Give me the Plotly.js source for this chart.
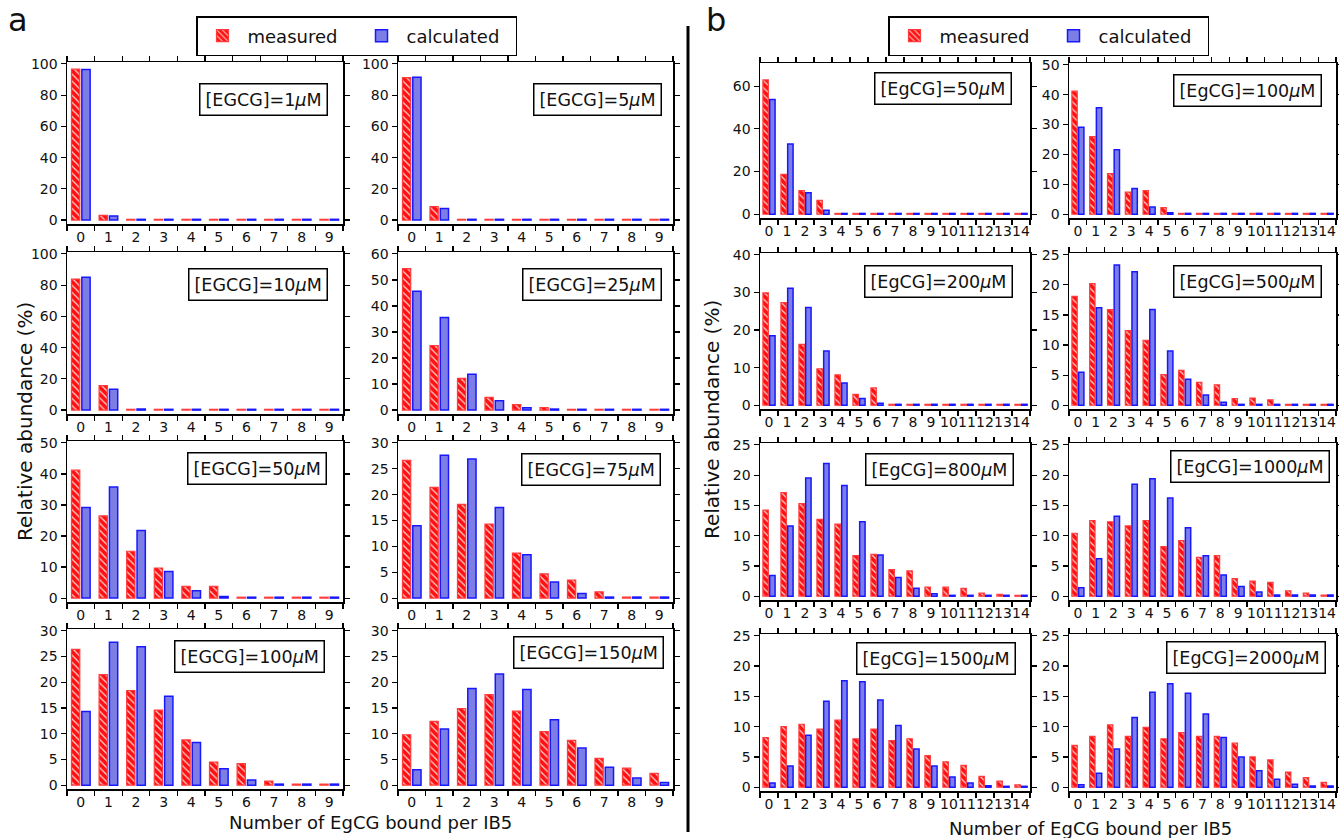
<!DOCTYPE html>
<html><head><meta charset="utf-8">
<script src="https://cdn.plot.ly/plotly-3.0.1.min.js"></script>
<style>html,body{margin:0;padding:0;overflow:hidden;background:#fff}</style>
</head><body><div id="chart" style="width:1339px;height:838px"></div>
<script>
// ---------- categories ----------
const bindCountA = [0,1,2,3,4,5,6,7,8,9];
const bindCountB = [0,1,2,3,4,5,6,7,8,9,10,11,12,13,14];

// ---------- panel a (EGCG) ----------
const measA1   = [96.6, 3.0, 0.5, 0.5, 0.5, 0.5, 0.5, 0.5, 0.5, 0.5];
const calcA1   = [96.4, 2.7, 0.5, 0.5, 0.5, 0.5, 0.5, 0.5, 0.5, 0.5];
const measA5   = [91.2, 8.6, 0.5, 0.5, 0.5, 0.5, 0.5, 0.5, 0.5, 0.5];
const calcA5   = [91.5, 7.5, 0.5, 0.5, 0.5, 0.5, 0.5, 0.5, 0.5, 0.5];
const measA10  = [83.9, 15.6, 0.5, 0.5, 0.5, 0.5, 0.5, 0.5, 0.5, 0.5];
const calcA10  = [85.0, 13.3, 0.7, 0.5, 0.5, 0.5, 0.5, 0.5, 0.5, 0.5];
const measA25  = [54.3, 24.8, 12.2, 4.9, 2.1, 1.0, 0.3, 0.3, 0.3, 0.3];
const calcA25  = [45.6, 35.6, 13.8, 3.6, 0.9, 0.4, 0.3, 0.3, 0.3, 0.3];
const measA50  = [41.2, 26.5, 15.1, 9.7, 3.8, 3.8, 0.3, 0.3, 0.3, 0.3];
const calcA50  = [29.2, 35.8, 21.8, 8.6, 2.4, 0.5, 0.3, 0.3, 0.3, 0.3];
const measA75  = [26.6, 21.4, 18.1, 14.3, 8.7, 4.7, 3.5, 1.2, 0.2, 0.2];
const calcA75  = [14.0, 27.6, 26.9, 17.5, 8.4, 3.1, 0.9, 0.2, 0.2, 0.2];
const measA100 = [26.4, 21.5, 18.4, 14.6, 8.8, 4.5, 4.2, 0.8, 0.2, 0.2];
const calcA100 = [14.3, 27.8, 26.9, 17.3, 8.3, 3.2, 1.0, 0.2, 0.2, 0.2];
const measA150 = [9.8, 12.4, 14.9, 17.6, 14.4, 10.4, 8.7, 5.2, 3.3, 2.3];
const calcA150 = [3.0, 10.9, 18.8, 21.6, 18.6, 12.7, 7.2, 3.5, 1.4, 0.5];

// ---------- panel b (EgCG) ----------
const measB50   = [62.9, 18.7, 11.1, 6.5, 0.4, 0.4, 0.4, 0.4, 0.4, 0.4, 0.4, 0.4, 0.4, 0.4, 0.4];
const calcB50   = [53.8, 32.9, 10.1, 1.9, 0.4, 0.4, 0.4, 0.4, 0.4, 0.4, 0.4, 0.4, 0.4, 0.4, 0.4];
const measB100  = [41.2, 26.0, 13.6, 7.4, 7.9, 2.2, 0.3, 0.3, 0.3, 0.3, 0.3, 0.3, 0.3, 0.3, 0.3];
const calcB100  = [29.1, 35.6, 21.6, 8.6, 2.4, 0.5, 0.3, 0.3, 0.3, 0.3, 0.3, 0.3, 0.3, 0.3, 0.3];
const measB200  = [29.9, 27.3, 16.2, 9.7, 8.1, 2.9, 4.6, 0.25, 0.25, 0.25, 0.25, 0.25, 0.25, 0.25, 0.25];
const calcB200  = [18.5, 31.1, 26.0, 14.4, 5.9, 1.8, 0.5, 0.25, 0.25, 0.25, 0.25, 0.25, 0.25, 0.25, 0.25];
const measB500  = [18.1, 20.2, 15.9, 12.4, 10.8, 5.1, 5.8, 3.8, 3.4, 1.1, 1.2, 0.9, 0.15, 0.15, 0.15];
const calcB500  = [5.5, 16.2, 23.3, 22.2, 15.9, 9.0, 4.3, 1.7, 0.5, 0.15, 0.15, 0.15, 0.15, 0.15, 0.15];
const measB800  = [14.2, 17.1, 15.3, 12.7, 11.9, 6.7, 6.9, 4.4, 4.2, 1.5, 1.5, 1.3, 0.5, 0.3, 0.15];
const calcB800  = [3.4, 11.6, 19.5, 21.9, 18.3, 12.3, 6.8, 3.1, 1.3, 0.4, 0.15, 0.15, 0.15, 0.15, 0.15];
const measB1000 = [10.4, 12.5, 12.3, 11.6, 12.5, 8.2, 9.2, 6.4, 6.7, 2.9, 2.5, 2.3, 0.9, 0.5, 0.2];
const calcB1000 = [1.4, 6.2, 13.2, 18.5, 19.4, 16.2, 11.3, 6.7, 3.5, 1.6, 0.7, 0.2, 0.2, 0.2, 0.2];
const measB1500 = [8.2, 10.0, 10.4, 9.6, 11.1, 8.0, 9.6, 7.7, 8.0, 5.2, 4.2, 3.6, 1.8, 1.0, 0.4];
const calcB1500 = [0.7, 3.5, 8.6, 14.2, 17.6, 17.4, 14.4, 10.2, 6.3, 3.5, 1.7, 0.7, 0.25, 0.15, 0.15];
const measB2000 = [6.9, 8.4, 10.3, 8.4, 9.9, 8.0, 9.0, 8.4, 8.4, 7.3, 5.0, 4.5, 2.5, 1.6, 0.8];
const calcB2000 = [0.4, 2.3, 6.3, 11.5, 15.7, 17.1, 15.5, 12.1, 8.2, 5.0, 2.7, 1.3, 0.5, 0.2, 0.2];

// ---------- labels ----------
const labelsA = ['[EGCG]=1<i>μ</i>M','[EGCG]=5<i>μ</i>M','[EGCG]=10<i>μ</i>M','[EGCG]=25<i>μ</i>M',
                 '[EGCG]=50<i>μ</i>M','[EGCG]=75<i>μ</i>M','[EGCG]=100<i>μ</i>M','[EGCG]=150<i>μ</i>M'];
const labelsB = ['[EgCG]=50<i>μ</i>M','[EgCG]=100<i>μ</i>M','[EgCG]=200<i>μ</i>M','[EgCG]=500<i>μ</i>M',
                 '[EgCG]=800<i>μ</i>M','[EgCG]=1000<i>μ</i>M','[EgCG]=1500<i>μ</i>M','[EgCG]=2000<i>μ</i>M'];
const seriesNames = ['measured', 'calculated'];
const yTitle = 'Relative abundance (%)';
const xTitle = 'Number of EgCG bound per IB5';

// ---------- geometry (pixels) ----------
const W = 1339, H = 838;
const FONT = 'DejaVu Sans, Arial, sans-serif';

const panels = [
  // part a
  {cats: bindCountA, meas: measA1,   calc: calcA1,   label: labelsA[0], x: [67, 343],  y: [62, 224],  ymax: 100, dtick: 20, lab: [328, 83],  leg: 'legend'},
  {cats: bindCountA, meas: measA5,   calc: calcA5,   label: labelsA[1], x: [398, 673], y: [62, 224],  ymax: 100, dtick: 20, lab: [662, 83]},
  {cats: bindCountA, meas: measA10,  calc: calcA10,  label: labelsA[2], x: [67, 343],  y: [252, 414], ymax: 100, dtick: 20, lab: [328, 268]},
  {cats: bindCountA, meas: measA25,  calc: calcA25,  label: labelsA[3], x: [398, 673], y: [252, 414], ymax: 60,  dtick: 10, lab: [662, 268]},
  {cats: bindCountA, meas: measA50,  calc: calcA50,  label: labelsA[4], x: [67, 343],  y: [441, 602], ymax: 50,  dtick: 10, lab: [327, 452]},
  {cats: bindCountA, meas: measA75,  calc: calcA75,  label: labelsA[5], x: [398, 673], y: [441, 602], ymax: 30,  dtick: 5,  lab: [661, 453]},
  {cats: bindCountA, meas: measA100, calc: calcA100, label: labelsA[6], x: [67, 343],  y: [629, 789], ymax: 30,  dtick: 5,  lab: [325, 640]},
  {cats: bindCountA, meas: measA150, calc: calcA150, label: labelsA[7], x: [398, 673], y: [629, 789], ymax: 30,  dtick: 5,  lab: [664, 636]},
  // part b
  {cats: bindCountB, meas: measB50,   calc: calcB50,   label: labelsB[0], x: [760, 1030],  y: [63, 218],  ymax: 70, dtick: 20, lab: [1012, 72], leg: 'legend2'},
  {cats: bindCountB, meas: measB100,  calc: calcB100,  label: labelsB[1], x: [1069, 1336], y: [63, 218],  ymax: 50, dtick: 10, lab: [1322, 74]},
  {cats: bindCountB, meas: measB200,  calc: calcB200,  label: labelsB[2], x: [760, 1030],  y: [253, 409], ymax: 40, dtick: 10, lab: [1013, 265]},
  {cats: bindCountB, meas: measB500,  calc: calcB500,  label: labelsB[3], x: [1069, 1336], y: [253, 409], ymax: 25, dtick: 5,  lab: [1322, 265]},
  {cats: bindCountB, meas: measB800,  calc: calcB800,  label: labelsB[4], x: [760, 1030],  y: [443, 600], ymax: 25, dtick: 5,  lab: [1014, 453]},
  {cats: bindCountB, meas: measB1000, calc: calcB1000, label: labelsB[5], x: [1069, 1336], y: [443, 600], ymax: 25, dtick: 5,  lab: [1330, 450]},
  {cats: bindCountB, meas: measB1500, calc: calcB1500, label: labelsB[6], x: [760, 1030],  y: [634, 791], ymax: 25, dtick: 5,  lab: [1016, 642]},
  {cats: bindCountB, meas: measB2000, calc: calcB2000, label: labelsB[7], x: [1069, 1336], y: [634, 791], ymax: 25, dtick: 5,  lab: [1326, 641]}
];

const px = v => v / W;
const py = v => 1 - v / H;

const traces = [];
const layout = {
  width: W, height: H,
  margin: {l: 0, r: 0, t: 0, b: 0},
  paper_bgcolor: 'white', plot_bgcolor: 'white',
  font: {family: FONT, color: '#111', size: 14},
  barmode: 'group', bargap: 0.25, bargroupgap: 0.2,
  showlegend: true,
  annotations: [], shapes: []
};

const measStyle = {color: '#ff1010', line: {color: '#ff3b3b', width: 1.2},
                   pattern: {shape: '\\', fillmode: 'replace', bgcolor: '#ff1010', fgcolor: '#ffd6d6',
                             size: 5, solidity: 0.25}};
const calcStyle = {color: '#7c7ee6', line: {color: '#1818ff', width: 1.5}};

panels.forEach((p, i) => {
  const k = i + 1;
  const xa = k === 1 ? 'x' : 'x' + k;
  const ya = k === 1 ? 'y' : 'y' + k;
  const show = !!p.leg;
  traces.push({type: 'bar', x: p.cats, y: p.meas, name: seriesNames[0], xaxis: xa, yaxis: ya,
               marker: measStyle, showlegend: show, legend: p.leg || 'legend', hoverinfo: 'y'});
  traces.push({type: 'bar', x: p.cats, y: p.calc, name: seriesNames[1], xaxis: xa, yaxis: ya,
               marker: calcStyle, showlegend: show, legend: p.leg || 'legend', hoverinfo: 'y'});
  const n = p.cats.length;
  const half = p.cats.map(c => c - 0.5).concat([n - 0.5]);
  layout['xaxis' + (k === 1 ? '' : k)] = {
    domain: [px(p.x[0]), px(p.x[1])], anchor: ya,
    range: [-0.5, n - 0.5], fixedrange: true,
    tickmode: 'array', tickvals: p.cats, ticktext: p.cats.map(String), tickangle: 0,
    ticks: '', showline: true, linecolor: 'black', linewidth: 1.5, mirror: 'ticks',
    minor: {tickmode: 'array', tickvals: half, ticks: 'outside', ticklen: 5, tickwidth: 1.2, tickcolor: 'black'},
    showgrid: false, zeroline: false,
    tickfont: {family: FONT, size: 14, color: '#111'}
  };
  layout['yaxis' + (k === 1 ? '' : k)] = {
    domain: [py(p.y[1]), py(p.y[0])], anchor: xa,
    range: [-0.025 * p.ymax, 1.012 * p.ymax], fixedrange: true,
    tick0: 0, dtick: p.dtick, ticks: 'outside', ticklen: 5, tickwidth: 1.2, tickcolor: 'black',
    showline: true, linecolor: 'black', linewidth: 1.5, mirror: 'ticks',
    showgrid: false, zeroline: false,
    tickfont: {family: FONT, size: 14, color: '#111'}
  };
  layout.annotations.push({
    xref: 'paper', yref: 'paper', x: px(p.lab[0]), y: py(p.lab[1]),
    xanchor: 'right', yanchor: 'top', showarrow: false,
    text: p.label, font: {family: FONT, size: 17.5, color: '#111'},
    bordercolor: 'black', borderwidth: 1.5, borderpad: 5, bgcolor: 'white'
  });
});

// legends
const legendCommon = {orientation: 'h', xanchor: 'left', yanchor: 'top',
  bordercolor: 'black', borderwidth: 1.5, bgcolor: 'white',
  font: {family: FONT, size: 18, color: '#111'}, entrywidth: 104, entrywidthmode: 'pixels',
  itemwidth: 40};
layout.legend = Object.assign({x: px(196), y: py(16)}, legendCommon);
layout.legend2 = Object.assign({x: px(888), y: py(16)}, legendCommon);

// part letters, axis titles
layout.annotations.push(
  {xref: 'paper', yref: 'paper', x: px(18), y: py(20), text: 'a', showarrow: false,
   font: {family: FONT, size: 32, color: '#111'}, xanchor: 'center', yanchor: 'middle'},
  {xref: 'paper', yref: 'paper', x: px(716), y: py(20), text: 'b', showarrow: false,
   font: {family: FONT, size: 32, color: '#111'}, xanchor: 'center', yanchor: 'middle'},
  {xref: 'paper', yref: 'paper', x: px(25), y: py(422), text: yTitle, textangle: -90, showarrow: false,
   font: {family: FONT, size: 20, color: '#111'}, xanchor: 'center', yanchor: 'middle'},
  {xref: 'paper', yref: 'paper', x: px(712), y: py(420), text: yTitle, textangle: -90, showarrow: false,
   font: {family: FONT, size: 20, color: '#111'}, xanchor: 'center', yanchor: 'middle'},
  {xref: 'paper', yref: 'paper', x: px(370), y: py(822), text: xTitle, showarrow: false,
   font: {family: FONT, size: 18, color: '#111'}, xanchor: 'center', yanchor: 'middle'},
  {xref: 'paper', yref: 'paper', x: px(1090), y: py(828), text: xTitle, showarrow: false,
   font: {family: FONT, size: 18, color: '#111'}, xanchor: 'center', yanchor: 'middle'}
);

// separator line
layout.shapes.push({type: 'line', xref: 'paper', yref: 'paper',
  x0: px(688), x1: px(688), y0: py(26), y1: py(832), line: {color: 'black', width: 3}});

Plotly.newPlot('chart', traces, layout, {displayModeBar: false, staticPlot: true});
</script>
</body></html>
